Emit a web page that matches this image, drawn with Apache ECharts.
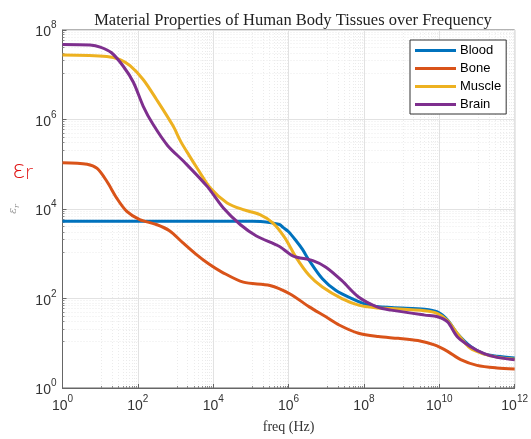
<!DOCTYPE html>
<html>
<head>
<meta charset="utf-8">
<script src="https://cdn.jsdelivr.net/npm/echarts@6/dist/echarts.min.js"></script>
<style>
  html, body { margin: 0; padding: 0; background: #fff; }
  #chart { width: 531px; height: 439px; }
</style>
</head>
<body>
<div id="chart"></div>
<script>
  // [freq (Hz), relative permittivity]
  var seriesNames = ['Blood', 'Bone', 'Muscle', 'Brain']
  var bloodData = [
    [1, 5350], [100, 5350], [1e4, 5350], [1e5, 5300], [2.5e5, 5150], [5.75e5, 4500],
    [7.1e5, 3900], [1e6, 3100], [1.58e6, 1950], [2.34e6, 1250], [3.55e6, 700],
    [7.9e6, 275], [1.78e7, 152], [4.8e7, 99], [1.32e8, 71], [5.4e8, 62.7],
    [4.1e9, 57.7], [8.9e9, 50], [1.66e10, 33], [3e10, 16.6], [6.8e10, 8.5],
    [1.5e11, 5.85], [3.4e11, 5.1], [1e12, 4.7]
  ]
  var boneData = [
    [1, 1.08e5], [4.5, 1.0e5], [8.3, 8.05e4], [15, 4.16e4], [27.5, 1.75e4], [50, 9000],
    [112, 5800], [310, 4500], [690, 3270], [1550, 1770], [3470, 980], [7700, 588],
    [1.74e4, 385], [6.3e4, 232], [3.2e5, 196], [1.07e6, 128], [3.55e6, 65],
    [9.8e6, 39], [2.2e7, 25.6], [7.2e7, 16.7], [2.4e8, 14.1], [8.1e8, 12.9],
    [2.7e9, 11.5], [7.4e9, 9.2], [1.66e10, 6.6], [3.7e10, 4.3], [1e11, 3.2],
    [3.4e11, 2.8], [1e12, 2.67]
  ]
  var muscleData = [
    [1, 2.76e7], [15, 2.57e7], [33.7, 2.18e7], [62, 1.59e7], [138, 7.85e6],
    [310, 2.84e6], [850, 7.3e5], [1380, 3.2e5], [2290, 1.58e5], [3800, 8.05e4],
    [8500, 2.9e4], [2.34e4, 1.37e4], [6.3e4, 9650], [1.74e5, 7500], [3.8e5, 4900],
    [7.9e5, 2300], [1.58e6, 830], [3.55e6, 325], [7.9e6, 180], [2.6e7, 99],
    [7.2e7, 71], [2e8, 62], [5.25e8, 59.5], [4.1e9, 53], [9e9, 46], [1.66e10, 32],
    [3e10, 16.6], [6.6e10, 7.8], [1.55e11, 5.7], [3.4e11, 4.9], [1e12, 4.4]
  ]
  var brainData = [
    [1, 4.73e7], [5.4, 4.6e7], [10, 4.15e7], [20, 3.1e7], [41, 1.55e7], [76, 6.8e6],
    [138, 2.0e6], [250, 7.9e5], [620, 2.6e5], [1660, 1.15e5], [6900, 3.2e4],
    [1.86e4, 1.05e4], [5.2e4, 4500], [1.4e5, 2500], [5.75e5, 1450], [1.29e6, 900],
    [4.4e6, 700], [9.8e6, 500], [2.6e7, 250], [7.2e7, 108], [2.4e8, 63],
    [5.25e8, 55], [4.1e9, 42.5], [9e9, 39], [1.66e10, 30], [3e10, 14], [6.6e10, 8.5],
    [1.55e11, 5.85], [3.4e11, 4.84], [1e12, 4.3]
  ]
  var seriesColors = ['#0072BD', '#D95319', '#EDB120', '#7E2F8E']
  var allData = [bloodData, boneData, muscleData, brainData]

  var chart = echarts.init(document.getElementById('chart'))

  function powLabel(v) {
    var e = Math.round(Math.log10(v))
    return '{b|10}{e|' + e + '}'
  }
  var labelRich = {
    b: { fontFamily: 'Liberation Sans', fontSize: 14, color: '#333', lineHeight: 19, verticalAlign: 'bottom' },
    e: { fontFamily: 'Liberation Sans', fontSize: 10, color: '#333', lineHeight: 19, verticalAlign: 'top' }
  }
  var gridLine = { show: true, lineStyle: { color: '#e2e2e2', width: 1 } }
  var minorGrid = { show: true, lineStyle: { color: '#ebebeb', width: 1, type: [1, 2] } }

  var option = {
    animation: false,
    backgroundColor: '#fff',
    title: {
      text: 'Material Properties of Human Body Tissues over Frequency',
      left: 288,
      textAlign: 'center',
      top: 7,
      textStyle: { fontFamily: 'Liberation Serif', fontWeight: 'normal', fontSize: 16.5, color: '#222' }
    },
    legend: {
      data: seriesNames,
      orient: 'vertical',
      left: 410,
      top: 40,
      padding: [4, 5, 3, 5],
      itemWidth: 41,
      itemHeight: 3,
      itemGap: 5,
      icon: 'rect',
      backgroundColor: '#fff',
      borderColor: '#333',
      borderWidth: 1,
      borderRadius: 0,
      textStyle: { fontFamily: 'Liberation Sans', fontSize: 13, color: '#000', lineHeight: 13, padding: [0, 0, 0, -1] }
    },
    grid: {
      left: 60, right: 13, top: 30, bottom: 47,
      show: true, borderColor: '#666', borderWidth: 1
    },
    xAxis: {
      type: 'log',
      logBase: 10,
      min: 1,
      max: 1e12,
      interval: 2,
      name: 'freq (Hz)',
      nameLocation: 'middle',
      nameGap: 32,
      nameTextStyle: { fontFamily: 'Liberation Serif', fontSize: 14, color: '#333' },
      axisLine: { lineStyle: { color: '#666' } },
      axisTick: { inside: true, length: 4, lineStyle: { color: '#666' } },
      minorTick: { show: true, splitNumber: 10, length: 2, lineStyle: { color: '#888' } },
      axisLabel: { formatter: powLabel, rich: labelRich, margin: 6 },
      splitLine: gridLine,
      minorSplitLine: minorGrid
    },
    yAxis: {
      type: 'log',
      logBase: 10,
      min: 1,
      max: 1e8,
      interval: 2,
      name: '{i|ε}{s|r}',
      nameLocation: 'middle',
      nameGap: 42,
      nameRotate: 90,
      nameTextStyle: {
        rich: {
          i: { fontFamily: 'DejaVu Serif', fontStyle: 'italic', fontSize: 11, color: '#999' },
          s: { fontFamily: 'DejaVu Serif', fontStyle: 'italic', fontSize: 8, color: '#999', padding: [6, 0, 0, 0] }
        }
      },
      axisLine: { lineStyle: { color: '#666' } },
      axisTick: { inside: true, length: 4, lineStyle: { color: '#666' } },
      minorTick: { show: true, splitNumber: 10, length: 2, lineStyle: { color: '#888' } },
      axisLabel: { formatter: powLabel, rich: labelRich, margin: 6 },
      splitLine: gridLine,
      minorSplitLine: minorGrid
    },
    graphic: [
      {
        type: 'text', left: 12, top: 159,
        style: { text: 'ε', font: '300 25px "DejaVu Sans"', fill: '#e01010' }
      },
      {
        type: 'text', left: 25, top: 165,
        style: { text: 'r', font: '300 19px "DejaVu Sans"', fill: '#e01010' }
      }
    ],
    series: seriesNames.map(function (name, i) {
      return {
        name: name,
        type: 'line',
        data: allData[i],
        showSymbol: false,
        smooth: 0.3,
        color: seriesColors[i],
        lineStyle: { width: 3, color: seriesColors[i] }
      }
    })
  }

  chart.setOption(option)
</script>
</body>
</html>
